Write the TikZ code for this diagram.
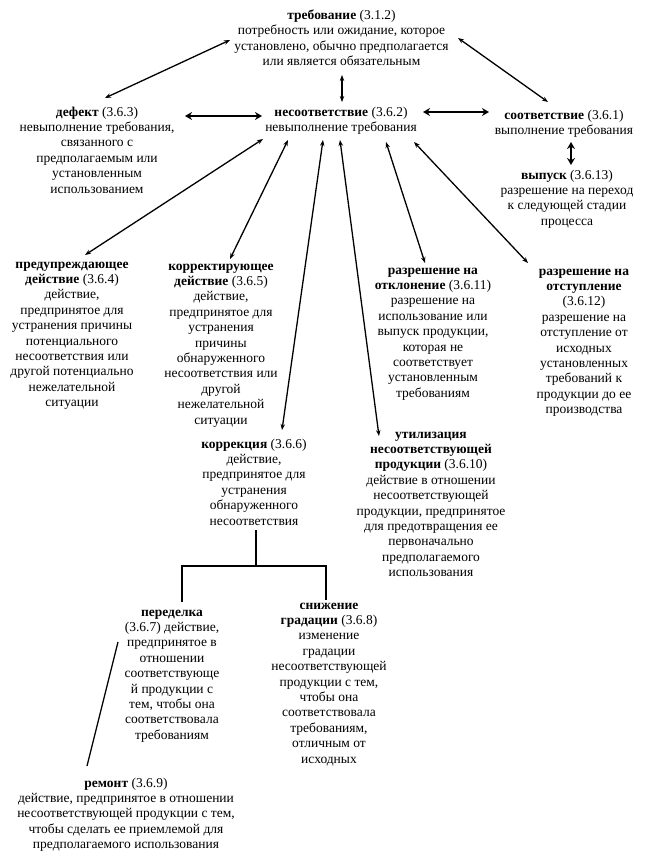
\documentclass[tikz,border=0pt]{standalone}
\usepackage{fontspec}
\setmainfont{Liberation Serif}
\usetikzlibrary{arrows.meta,calc}
\begin{document}
\begin{tikzpicture}[x=1pt,y=-1pt,
  txt/.style={anchor=north,align=center,inner xsep=0pt,inner ysep=1.5pt,font=\rmfamily\fontsize{13.5}{15.4}\selectfont},
  link/.style={{Stealth[length=6pt,width=4.5pt]}-{Stealth[length=6pt,width=4.5pt]},line width=1.3pt},
  biglink/.style={{Stealth[length=7pt,width=8pt]}-{Stealth[length=7pt,width=8pt]},line width=2.8pt},
  tree/.style={line width=2.8pt},
  plainline/.style={line width=1.3pt}]
\useasboundingbox (0,0) rectangle (656,857);

\node[txt] (treb) at (341.5,8) {\textbf{требование} (3.1.2)\\потребность или ожидание, которое\\установлено, обычно предполагается\\или является обязательным};
\node[txt] (defect) at (97,105) {\textbf{дефект} (3.6.3)\\невыполнение требования,\\связанного с\\предполагаемым или\\установленным\\использованием};
\node[txt] (nesoot) at (341,105) {\textbf{несоответствие} (3.6.2)\\невыполнение требования};
\node[txt] (soot) at (564,108) {\textbf{соответствие} (3.6.1)\\выполнение требования};
\node[txt] (vypusk) at (567,168) {\textbf{выпуск} (3.6.13)\\разрешение на переход\\к следующей стадии\\процесса};
\node[txt] (predupr) at (72,260) {\textbf{предупреждающее}\\\textbf{действие} (3.6.4)\\действие,\\предпринятое для\\устранения причины\\потенциального\\несоответствия или\\другой потенциально\\нежелательной\\ситуации};
\node[txt] (korr) at (221,262) {\textbf{корректирующее}\\\textbf{действие} (3.6.5)\\действие,\\предпринятое для\\устранения\\причины\\обнаруженного\\несоответствия или\\другой\\нежелательной\\ситуации};
\node[txt] (otklon) at (433,266) {\textbf{разрешение на}\\\textbf{отклонение} (3.6.11)\\разрешение на\\использование или\\выпуск продукции,\\которая не\\соответствует\\установленным\\требованиям};
\node[txt] (otstup) at (584,267) {\textbf{разрешение на}\\\textbf{отступление}\\(3.6.12)\\разрешение на\\отступление от\\исходных\\установленных\\требований к\\продукции до ее\\производства};
\node[txt] (korrek) at (254,437) {\textbf{коррекция} (3.6.6)\\действие,\\предпринятое для\\устранения\\обнаруженного\\несоответствия};
\node[txt] (util) at (431,430) {\textbf{утилизация}\\\textbf{несоответствующей}\\\textbf{продукции} (3.6.10)\\действие в отношении\\несоответствующей\\продукции, предпринятое\\для предотвращения ее\\первоначально\\предполагаемого\\использования};
\node[txt] (peredelka) at (172,608) {\textbf{переделка}\\(3.6.7) действие,\\предпринятое в\\отношении\\соответствующе\\й продукции с\\тем, чтобы она\\соответствовала\\требованиям};
\node[txt] (snizh) at (329,601) {\textbf{снижение}\\\textbf{градации} (3.6.8)\\изменение\\градации\\несоответствующей\\продукции с тем,\\чтобы она\\соответствовала\\требованиям,\\отличным от\\исходных};
\node[txt] (remont) at (126,776) {\textbf{ремонт} (3.6.9)\\действие, предпринятое в отношении\\несоответствующей продукции с тем,\\чтобы сделать ее приемлемой для\\предполагаемого использования};

% top relations
\draw[link] ($(treb.north)+(-111.5,32)$) -- ($(defect.north)+(8,-7)$);
\draw[link] ($(treb.north)+(0.5,67)$) -- ($(nesoot.north)+(1,-3)$);
\draw[link] ($(treb.north)+(116.5,30)$) -- ($(soot.north)+(-16,-6)$);
\draw[biglink] ($(defect.north)+(88,11)$) -- ($(nesoot.north)+(-79,11)$);
\draw[biglink] ($(nesoot.north)+(82,7)$) -- ($(soot.north)+(-75,4)$);
\draw[biglink] ($(soot.north)+(7,34)$) -- ($(vypusk.north)+(4,-3)$);

% fan from nonconformity
\draw[link] ($(nesoot.north)+(-78,34)$) -- ($(predupr.north)+(13,-5)$);
\draw[link] ($(nesoot.north)+(-53,35)$) -- ($(korr.north)+(9,-3)$);
\draw[link] ($(nesoot.north)+(-18,35)$) -- ($(korrek.north)+(28,-7)$);
\draw[link] ($(nesoot.north)+(-1,35)$) -- ($(util.north)+(-52,6)$);
\draw[link] ($(nesoot.north)+(45,37)$) -- ($(otklon.north)+(-8,-3)$);
\draw[link] ($(nesoot.north)+(73,37)$) -- ($(otstup.north)+(-56,-4)$);

% correction tree
\draw[tree] ($(korrek.north)+(2,93)$) -- ++(0,36);
\draw[tree] ($(peredelka.north)+(10,-6)$) -- ++(0,-36) -| ($(snizh.north)+(-3,-1)$);
\draw[plainline] ($(peredelka.north)+(-54,34)$) -- ($(remont.north)+(-39,-10)$);
\end{tikzpicture}
\end{document}
